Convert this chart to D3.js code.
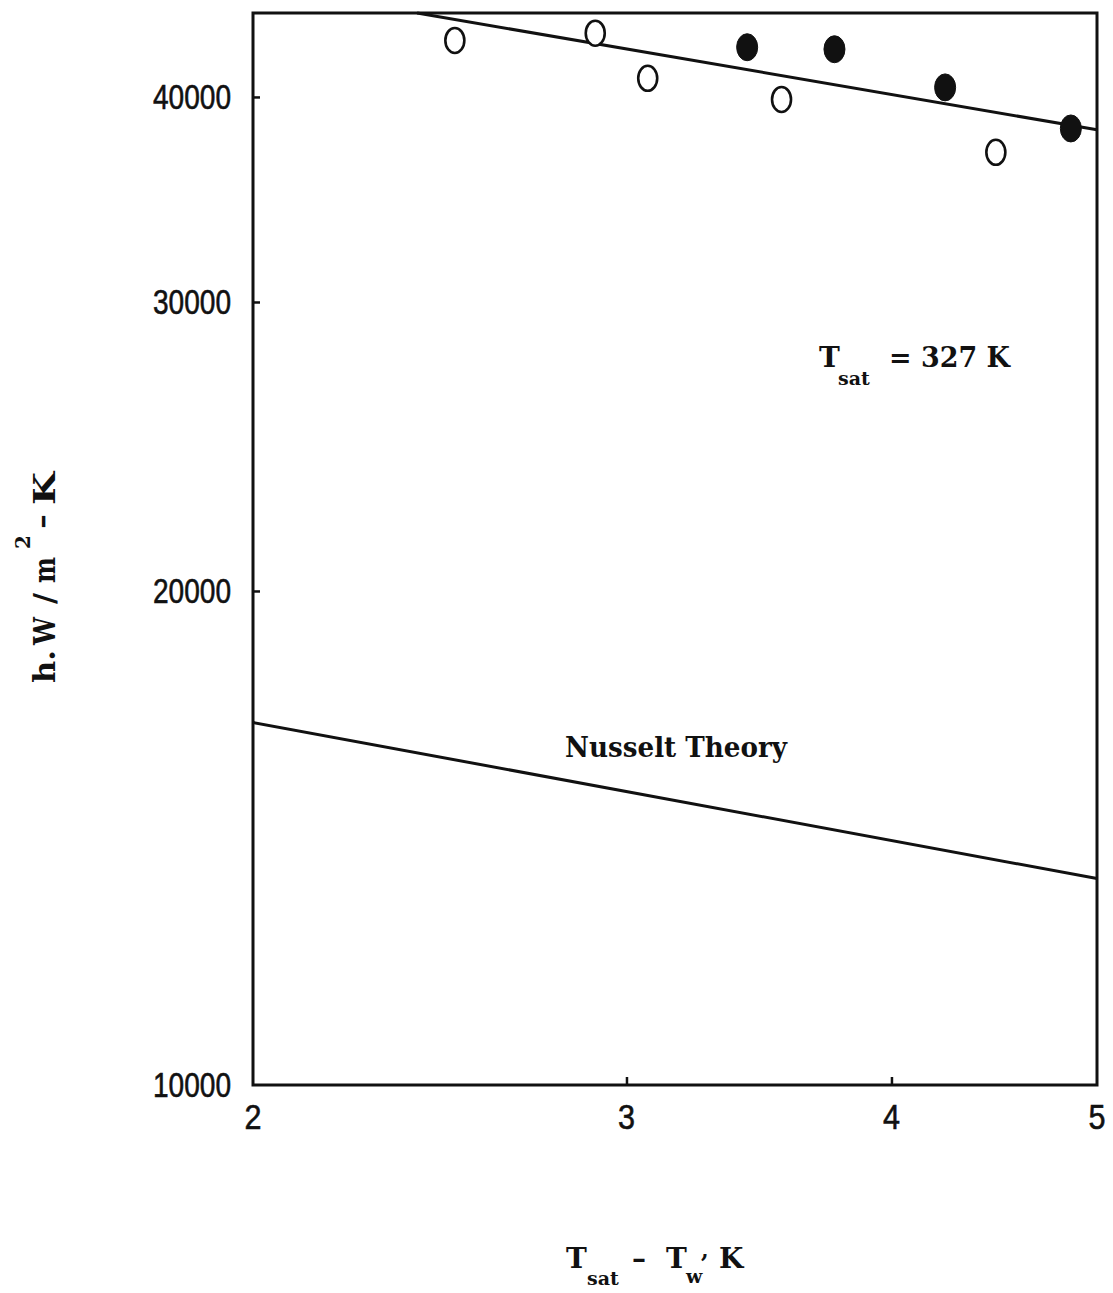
<!DOCTYPE html>
<html>
<head>
<meta charset="utf-8">
<script src="https://cdn.jsdelivr.net/npm/d3@7"></script>
<style>
  html, body { margin: 0; padding: 0; background: #fff; }
  svg { display: block; }
  .tick-label { font-family: "Liberation Sans", Arial, sans-serif; font-size: 35px; fill: #111; stroke: #111; stroke-width: 0.6px; }
  .title { font-family: "DejaVu Serif", serif; font-weight: bold; fill: #111; }
</style>
</head>
<body>
<svg id="chart" width="1113" height="1293"></svg>
<script>
// Condensation heat transfer coefficient vs. wall subcooling (log-log)
const xTicks = [2, 3, 4, 5];
const yTicks = [10000, 20000, 30000, 40000];

// measured points: open symbols
const openDT = [2.49, 2.90, 3.07, 3.55, 4.48];
const openH  = [43300, 43740, 41060, 39860, 37010];

// measured points: filled symbols
const filledDT = [3.42, 3.76, 4.24, 4.86];
const filledH  = [42890, 42770, 40540, 38270];

// correlation through the data
const fitDT = [2.39, 5];
const fitH  = [45000, 38200];

// Nusselt film condensation theory
const nusseltDT = [2, 5];
const nusseltH  = [16630, 13360];

const svg = d3.select("#chart");
const plotL = 253, plotR = 1097, plotT = 13, plotB = 1085;

const x = d3.scaleLog().domain([2, 5]).range([plotL, plotR]);
const y = d3.scaleLog().domain([10000, 45000]).range([plotB, plotT]);

// frame
svg.append("rect")
  .attr("x", plotL).attr("y", plotT)
  .attr("width", plotR - plotL).attr("height", plotB - plotT)
  .attr("fill", "none").attr("stroke", "#111").attr("stroke-width", 3);

// inward ticks
const xAxis = d3.axisBottom(x).tickValues(xTicks.slice(1, -1)).tickSize(-8).tickFormat("");
svg.append("g").attr("transform", `translate(0,${plotB})`).call(xAxis)
  .call(g => g.select(".domain").remove())
  .call(g => g.selectAll("line").attr("stroke", "#111").attr("stroke-width", 2.5));

const yAxis = d3.axisLeft(y).tickValues(yTicks.slice(1)).tickSize(-7).tickFormat("");
svg.append("g").attr("transform", `translate(${plotL},0)`).call(yAxis)
  .call(g => g.select(".domain").remove())
  .call(g => g.selectAll("line").attr("stroke", "#111").attr("stroke-width", 2.5));

// tick labels
svg.append("g").selectAll("text").data(xTicks).join("text")
  .attr("class", "tick-label")
  .attr("x", d => x(d)).attr("y", 1129)
  .attr("text-anchor", "middle")
  .attr("textLength", 17).attr("lengthAdjust", "spacingAndGlyphs")
  .text(d => d);

svg.append("g").selectAll("text").data(yTicks).join("text")
  .attr("class", "tick-label")
  .attr("x", 231).attr("y", d => y(d) + 12)
  .attr("text-anchor", "end")
  .attr("textLength", 78).attr("lengthAdjust", "spacingAndGlyphs")
  .text(d => d);

// lines
const line = d3.line().x(d => x(d[0])).y(d => y(d[1]));
svg.append("path")
  .datum(d3.zip(fitDT, fitH))
  .attr("d", line).attr("fill", "none").attr("stroke", "#111").attr("stroke-width", 3);
svg.append("path")
  .datum(d3.zip(nusseltDT, nusseltH))
  .attr("d", line).attr("fill", "none").attr("stroke", "#111").attr("stroke-width", 3);

// symbols
svg.append("g").selectAll("ellipse").data(d3.zip(openDT, openH)).join("ellipse")
  .attr("cx", d => x(d[0])).attr("cy", d => y(d[1]))
  .attr("rx", 9.5).attr("ry", 12.5)
  .attr("fill", "#fff").attr("stroke", "#111").attr("stroke-width", 2.6);

svg.append("g").selectAll("ellipse").data(d3.zip(filledDT, filledH)).join("ellipse")
  .attr("cx", d => x(d[0])).attr("cy", d => y(d[1]))
  .attr("rx", 10.5).attr("ry", 13.5)
  .attr("fill", "#111").attr("stroke", "#111").attr("stroke-width", 1);

// annotations
svg.append("text").attr("class", "title")
  .attr("x", 565).attr("y", 757).attr("font-size", 28)
  .attr("textLength", 222).attr("lengthAdjust", "spacingAndGlyphs")
  .text("Nusselt Theory");

const tsat = svg.append("text").attr("class", "title").attr("font-size", 28);
tsat.append("tspan").attr("x", 819).attr("y", 367).text("T");
tsat.append("tspan").attr("x", 838).attr("y", 385).attr("font-size", 19).text("sat");
tsat.append("tspan").attr("x", 889).attr("y", 367)
  .attr("textLength", 121).attr("lengthAdjust", "spacingAndGlyphs").text("= 327 K");

// x-axis title
const xt = svg.append("text").attr("class", "title").attr("font-size", 28);
xt.append("tspan").attr("x", 566).attr("y", 1268).text("T");
xt.append("tspan").attr("x", 587).attr("y", 1285).attr("font-size", 19).text("sat");
xt.append("tspan").attr("x", 632).attr("y", 1268).text("–");
xt.append("tspan").attr("x", 666).attr("y", 1268).text("T");
xt.append("tspan").attr("x", 686).attr("y", 1283).attr("font-size", 19).text("w");
xt.append("tspan").attr("x", 701).attr("y", 1258).attr("font-size", 22).text(",");
xt.append("tspan").attr("x", 719).attr("y", 1268).text("K");

// y-axis title, set glyph by glyph in typewriter spacing
const yt = svg.append("text").attr("class", "title").attr("font-size", 30)
  .attr("transform", "translate(55,683) rotate(-90)");
const ytParts = [
  { t: "h.", x: 0,   y: 0,   w: 33 },
  { t: "W",  x: 38,  y: 0,   w: 28 },
  { t: "/",  x: 79,  y: 0 },
  { t: "m",  x: 100, y: 0,   w: 26 },
  { t: "2",  x: 134, y: -25, s: 20 },
  { t: "−",  x: 154, y: -2,  w: 15 },
  { t: "K",  x: 178, y: 0,   w: 33 }
];
ytParts.forEach(p => {
  const ts = yt.append("tspan").attr("x", p.x).attr("y", p.y).text(p.t);
  if (p.w) ts.attr("textLength", p.w).attr("lengthAdjust", "spacingAndGlyphs");
  if (p.s) ts.attr("font-size", p.s);
});
</script>
</body>
</html>
